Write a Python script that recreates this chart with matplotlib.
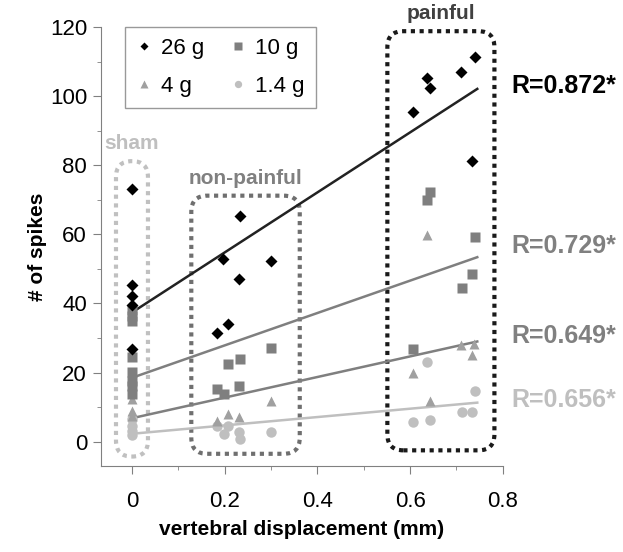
import numpy as np
import matplotlib
matplotlib.use('Agg')
import matplotlib.pyplot as plt
from matplotlib.patches import FancyBboxPatch
from matplotlib.ticker import MultipleLocator

plt.rcParams['font.family'] = ['Liberation Sans', 'DejaVu Sans']

# data (x = vertebral displacement in mm, y = # of spikes)
x_26 = [0, 0, 0, 0, 0,
        0.233, 0.197, 0.300, 0.231, 0.208, 0.183,
        0.740, 0.709, 0.636, 0.643, 0.607, 0.734]
y_26 = [73.1, 45.3, 42.3, 39.5, 26.7,
        65.3, 53.0, 52.3, 47.0, 34.2, 31.6,
        111.4, 107.0, 105.3, 102.5, 95.3, 81.1]

x_10 = [0, 0, 0, 0, 0, 0, 0, 0,
        0.300, 0.233, 0.207, 0.230, 0.183, 0.198,
        0.643, 0.636, 0.740, 0.734, 0.711, 0.607]
y_10 = [38.0, 36.5, 35.0, 24.5, 20.3, 17.5, 16.0, 13.8,
        27.0, 23.9, 22.4, 16.2, 15.3, 13.8,
        72.2, 69.9, 59.3, 48.4, 44.6, 26.8]

x_4 = [0, 0, 0,
       0.300, 0.208, 0.231, 0.183,
       0.636, 0.710, 0.739, 0.734, 0.607, 0.643]
y_4 = [12.5, 8.8, 7.5,
       11.7, 8.1, 7.2, 5.9,
       59.8, 27.9, 28.4, 25.0, 19.9, 11.8]

x_14 = [0, 0, 0, 0,
        0.183, 0.207, 0.198, 0.231, 0.233, 0.300,
        0.636, 0.740, 0.711, 0.734, 0.643, 0.607]
y_14 = [6.5, 4.5, 3.0, 1.8,
        4.5, 4.5, 2.3, 2.8, 0.9, 2.9,
        23.1, 14.7, 8.5, 8.5, 6.4, 5.7]

# regression lines (value at x=0 and at x_end)
fit_x = [0, 0.745]
fit_26 = [37.4, 102.1]
fit_10 = [18.5, 53.4]
fit_4 = [6.8, 29.0]
fit_14 = [2.3, 11.3]
r_labels = ['R=0.872*', 'R=0.729*', 'R=0.649*', 'R=0.656*']

# groups: (label, x0, x1, y0, y1)
groups = [('sham', -0.0345, 0.0345, -4.3, 81.2),
          ('non-painful', 0.128, 0.362, -3.5, 71.2),
          ('painful', 0.551, 0.782, -2.5, 118.8)]

c_26, c_10, c_4, c_14 = 'black', '#7f7f7f', '#a0a0a0', '#bfbfbf'

fig = plt.figure(figsize=(6.23, 5.52), dpi=100)
ax = fig.add_axes([0.162, 0.156, 0.645, 0.795])
ax.set_xlim(-0.067, 0.8)
ax.set_ylim(-7, 120)

# dotted rounded boxes
fig.canvas.draw()
bb = ax.get_window_extent()
xpp = 0.867 / bb.width
ypp = 127 / bb.height
aspect = ypp / xpp
box_cols = ['#c0c0c0', '#6f6f6f', '#1a1a1a']
lab_cols = ['#bfbfbf', '#808080', '#404040']
for (name, x0, x1, y0, y1), bc, lc in zip(groups, box_cols, lab_cols):
    p = FancyBboxPatch((x0, y0), x1 - x0, y1 - y0,
                       boxstyle='round,pad=0,rounding_size=%f' % (16 * xpp),
                       mutation_aspect=aspect, fill=False, ec=bc, lw=3,
                       ls=(0, (1, 1.1)), clip_on=False, zorder=1)
    ax.add_patch(p)
    ax.text((x0 + x1) / 2, y1 + 2.3, name, ha='center', va='bottom',
            color=lc, fontsize=15, fontweight='bold')

ax.plot(fit_x, fit_26, color='#222222', lw=1.8, zorder=2)
ax.plot(fit_x, fit_10, color='#7f7f7f', lw=1.8, zorder=2)
ax.plot(fit_x, fit_4, color='#7f7f7f', lw=1.8, zorder=2)
ax.plot(fit_x, fit_14, color='#bfbfbf', lw=1.8, zorder=2)

ax.plot(x_14, y_14, 'o', color=c_14, ms=7.5, mec='none', label='1.4 g', zorder=3)
ax.plot(x_4, y_4, '^', color=c_4, ms=7.5, mec='none', label='4 g', zorder=3)
ax.plot(x_10, y_10, 's', color=c_10, ms=7.5, mec='none', label='10 g', zorder=3)
ax.plot(x_26, y_26, 'D', color=c_26, ms=6, mec='none', label='26 g', zorder=4)

r_cols = ['black', '#808080', '#808080', '#bfbfbf']
r_y = [102.9, 56.5, 30.7, 12.2]
for lab, yy, cc in zip(r_labels, r_y, r_cols):
    ax.text(0.819, yy, lab, color=cc, fontsize=18, fontweight='bold',
            va='center', ha='left', clip_on=False)

h, l = ax.get_legend_handles_labels()
order = [3, 1, 2, 0]
leg = ax.legend([h[i] for i in order], [l[i] for i in order], ncol=2,
                loc='upper left', bbox_to_anchor=(0.06, 1.0), borderaxespad=0,
                fontsize=16, fancybox=False, edgecolor='#808080',
                handlelength=0.7, handletextpad=0.4, columnspacing=1.2,
                labelspacing=0.75, borderpad=0.5, markerscale=0.7)
leg.get_frame().set_linewidth(1)

ax.xaxis.set_major_locator(MultipleLocator(0.2))
ax.xaxis.set_minor_locator(MultipleLocator(0.1))
ax.yaxis.set_major_locator(MultipleLocator(20))
ax.yaxis.set_minor_locator(MultipleLocator(10))
ax.set_xticks([0, 0.2, 0.4, 0.6, 0.8])
ax.set_xticklabels(['0', '0.2', '0.4', '0.6', '0.8'])
ax.tick_params(which='both', direction='out', color='#808080', labelsize=16)
ax.tick_params(axis='y', pad=4)
ax.tick_params(axis='x', pad=12)
ax.tick_params(which='major', length=6)
ax.tick_params(which='minor', length=3)
ax.spines['top'].set_visible(False)
ax.spines['right'].set_visible(False)
ax.spines['left'].set_color('#808080')
ax.spines['bottom'].set_color('#808080')

ax.set_xlabel('vertebral displacement (mm)', fontsize=15, fontweight='bold', labelpad=6)
ax.set_ylabel('# of spikes', fontsize=15, fontweight='bold', labelpad=2)

fig.savefig('out.png', dpi=100)
